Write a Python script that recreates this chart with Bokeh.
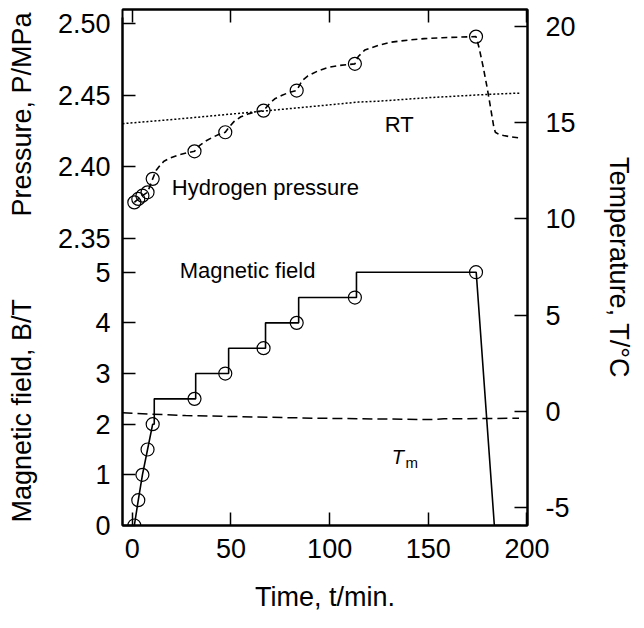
from bokeh.plotting import figure
from bokeh.models import Range1d, LinearAxis, FixedTicker, CustomJSTickFormatter, Label
from bokeh.embed import file_html
from bokeh.resources import INLINE

FONT = "Liberation Sans"

# ---------------- data ----------------
x_ticks = [0, 50, 100, 150, 200]
B_ticks = [0, 1, 2, 3, 4, 5]
P_ticks = [2.35, 2.40, 2.45, 2.50]
T_ticks = [-5, 0, 5, 10, 15, 20]

# measurement points (circles)
circle_t = [1.0, 3.0, 5.1, 7.7, 10.3, 31.5, 47.1, 66.5, 83.3, 112.8, 174.2]
circle_B = [0.0, 0.5, 1.0, 1.5, 2.0, 2.5, 3.0, 3.5, 4.0, 4.5, 5.0]
circle_P = [2.3753, 2.3777, 2.3800, 2.3823, 2.3917, 2.4109, 2.4242, 2.4393,
            2.4533, 2.4719, 2.4909]

# magnetic field (step line)
field_t = [1.0, 3.0, 5.1, 7.7, 10.3, 11.1, 11.1, 32.1, 32.1, 48.8, 48.8,
           67.5, 67.5, 84.3, 84.3, 113.6, 113.6, 174.3, 183.5, 197.0]
field_B = [0.0, 0.5, 1.0, 1.5, 2.0, 2.0, 2.5, 2.5, 3.0, 3.0, 3.5,
           3.5, 4.0, 4.0, 4.5, 4.5, 5.0, 5.0, 0.0, 0.0]

# hydrogen pressure (dashed)
pressure_t = [1.0, 3.0, 5.1, 7.7, 10.3, 12, 14, 16, 19, 23, 27.3, 31.5, 34, 37,
              40.7, 44, 47.1, 49.5, 51.6, 55, 59.2, 63, 66.5, 68.5, 70.1, 72.5,
              75.9, 79.5, 83.3, 84.8, 86, 89, 94.4, 99, 104.4, 112.8, 114.5,
              117.8, 124.5, 131, 140, 148, 157, 164.8, 174.2, 175.7, 177.8,
              179.8, 181.5, 182.4, 183.2, 184, 186, 188.2, 192, 195.8]
pressure_P = [2.3753, 2.3777, 2.3800, 2.3823, 2.3917, 2.3975, 2.4010, 2.4040,
              2.4062, 2.4082, 2.4097, 2.4109, 2.4149, 2.4180, 2.4207, 2.4228,
              2.4242, 2.4285, 2.4318, 2.4350, 2.4372, 2.4385, 2.4393, 2.4425,
              2.4451, 2.4478, 2.4500, 2.4520, 2.4533, 2.4570, 2.4602, 2.4635,
              2.4672, 2.4693, 2.4707, 2.4719, 2.4770, 2.4815, 2.4847, 2.4870,
              2.4885, 2.4895, 2.4901, 2.4905, 2.4909, 2.4835, 2.4700, 2.4556,
              2.4420, 2.4346, 2.4280, 2.4242, 2.4226, 2.4219, 2.4210, 2.4203]

# room temperature (dotted)
rt_t = [-5, 24, 66, 114.5, 125, 150, 180, 197]
rt_T = [14.95, 15.2, 15.6, 16.07, 16.12, 16.3, 16.47, 16.54]

# magnet temperature T_m (dashed)
tm_t = [-5, 27, 94, 153, 158, 196]
tm_T = [-0.07, -0.21, -0.35, -0.42, -0.38, -0.35]

# axis titles
left_title_lower = "Magnetic field, B/T"
left_title_upper = "Pressure, P/MPa"
x_title = "Time, t/min."
right_title = "Temperature, T/°C"

# ---------------- ranges ----------------
X_range = (-5.0, 200.3)
P_range = (2.15, 2.5098)
B_range = (0.0, 10.186)
T_range = (-5.92, 20.88)

p = figure(width=636, height=620, output_backend="svg", toolbar_location=None,
           x_range=Range1d(*X_range), y_range=Range1d(*T_range),
           x_axis_location=None, y_axis_location=None,
           min_border_left=122, min_border_right=105,
           min_border_top=9, min_border_bottom=95)
p.extra_y_ranges = {"P": Range1d(*P_range), "B": Range1d(*B_range)}
p.grid.visible = False
p.outline_line_color = "black"
p.outline_line_width = 2
p.background_fill_color = "white"
p.border_fill_color = "white"


def style(ax, label_size="27px"):
    ax.axis_line_width = 2
    ax.axis_line_color = "black"
    ax.major_tick_in = 13
    ax.major_tick_out = 0
    ax.major_tick_line_width = 1.5
    ax.major_tick_line_color = "black"
    ax.minor_tick_line_color = None
    ax.major_label_text_font = FONT
    ax.major_label_text_font_size = label_size
    ax.major_label_text_color = "black"
    ax.axis_label_text_font = FONT
    ax.axis_label_text_font_size = "27px"
    ax.axis_label_text_font_style = "normal"
    ax.axis_label_text_color = "black"


int_fmt = "return tick.toFixed(0);"

bottom = LinearAxis(ticker=FixedTicker(ticks=x_ticks), axis_label=x_title,
                    major_label_standoff=13, axis_label_standoff=21,
                    formatter=CustomJSTickFormatter(code=int_fmt))
style(bottom)
p.add_layout(bottom, "below")

top = LinearAxis(ticker=FixedTicker(ticks=x_ticks), major_label_standoff=0,
                 formatter=CustomJSTickFormatter(code="return '';"))
style(top, "0px")
p.add_layout(top, "above")

# left axis: magnetic field ticks (lower part) and pressure ticks (upper part);
# its title carries both quantity names, lower one first (reads upward)
b_per_p = (B_range[1] - B_range[0]) / (P_range[1] - P_range[0])
left_ticks = B_ticks + [(v - P_range[0]) * b_per_p for v in P_ticks]
gap = "\u00a0" * 11
left = LinearAxis(y_range_name="B", ticker=FixedTicker(ticks=left_ticks),
                  bounds=(0.0, 10.03),
                  axis_label=left_title_lower + gap + left_title_upper,
                  major_label_standoff=12, axis_label_standoff=18,
                  formatter=CustomJSTickFormatter(
                      args=dict(p0=P_range[0], k=1.0 / b_per_p),
                      code="if (tick > 5.3) { return (p0 + tick * k).toFixed(2); } return tick.toFixed(0);"))
style(left)
p.add_layout(left, "left")

right = LinearAxis(ticker=FixedTicker(ticks=T_ticks), axis_label=right_title,
                   major_label_standoff=18, axis_label_standoff=25,
                   formatter=CustomJSTickFormatter(code=int_fmt))
style(right)
p.add_layout(right, "right")

# ---------------- data renderers ----------------
p.line(rt_t, rt_T, line_color="black", line_width=1.5, line_dash="2 2")
p.line(tm_t, tm_T, line_color="black", line_width=1.5, line_dash="10 5")
p.line(pressure_t, pressure_P, y_range_name="P", line_color="black",
       line_width=1.6, line_dash="6 4")
p.line(field_t, field_B, y_range_name="B", line_color="black", line_width=1.6)
p.scatter(circle_t, circle_P, y_range_name="P", marker="circle", size=13,
          fill_color=None, line_color="black", line_width=1.2)
p.scatter(circle_t, circle_B, y_range_name="B", marker="circle", size=13,
          fill_color=None, line_color="black", line_width=1.2)


# ---------------- annotations ----------------
def lab(x, y, text, rng=None, size="22px", style_="normal", **kw):
    kwargs = dict(x=x, y=y, text=text, text_font=FONT, text_font_size=size,
                  text_font_style=style_, text_color="black",
                  text_baseline="alphabetic", text_align="left")
    kwargs.update(kw)
    if rng:
        kwargs["y_range_name"] = rng
    p.add_layout(Label(**kwargs))


lab(20, 2.3856, "Hydrogen pressure", rng="P")
lab(127.9, 14.93, "RT")
lab(24, 5.034, "Magnetic field", rng="B")
lab(131.5, -2.34, "T", size="20px", style_="italic")
lab(138.5, -2.65, "m", size="15px")

open("out.html", "w").write(file_html(p, INLINE))
